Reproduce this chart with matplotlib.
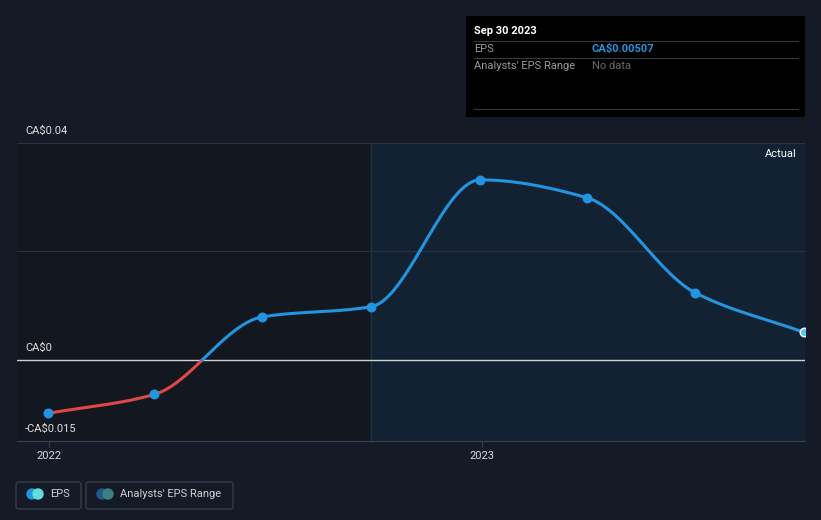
import numpy as np
import matplotlib
matplotlib.use("Agg")
import matplotlib.pyplot as plt
import matplotlib.dates as mdates
from matplotlib.patches import Rectangle, FancyBboxPatch, Ellipse
from matplotlib.lines import Line2D
import datetime as dt

plt.rcParams['font.family'] = ['Roboto', 'DejaVu Sans']

# data
dates = ["2021-12-31", "2022-03-31", "2022-06-30", "2022-09-30",
         "2022-12-31", "2023-03-31", "2023-06-30", "2023-09-30"]
eps = [-0.0099, -0.0064, 0.0079, 0.0098, 0.0332, 0.0299, 0.0124, 0.00507]
ytick_vals = [0.04, 0.0, -0.015]
ytick_labels = ["CA$0.04", "CA$0", "-CA$0.015"]
xtick_dates = ["2022-01-01", "2023-01-01"]
xtick_labels = ["2022", "2023"]

BG = '#151b26'
BLUE = '#2394df'
RED = '#e04848'
W, H = 821, 520

x = mdates.date2num([dt.date.fromisoformat(d) for d in dates])
y = np.array(eps)


def pchip(xk, yk, xs):
    h = np.diff(xk)
    d = np.diff(yk) / h
    m = np.zeros_like(yk)
    for i in range(1, len(xk) - 1):
        if d[i - 1] * d[i] > 0:
            w1 = 2 * h[i] + h[i - 1]
            w2 = h[i] + 2 * h[i - 1]
            m[i] = (w1 + w2) / (w1 / d[i - 1] + w2 / d[i])
    m[0] = d[0]
    m[-1] = d[-1]
    out = np.empty_like(xs)
    for j, xv in enumerate(xs):
        i = min(max(np.searchsorted(xk, xv) - 1, 0), len(xk) - 2)
        t = (xv - xk[i]) / h[i]
        h00 = 2 * t**3 - 3 * t**2 + 1
        h10 = t**3 - 2 * t**2 + t
        h01 = -2 * t**3 + 3 * t**2
        h11 = t**3 - t**2
        out[j] = h00 * yk[i] + h10 * h[i] * m[i] + h01 * yk[i + 1] + h11 * h[i] * m[i + 1]
    return out


fig = plt.figure(figsize=(W / 100, H / 100), dpi=100, facecolor=BG)
ax = fig.add_axes([17 / W, (H - 441) / H, (805 - 17) / W, (441 - 143) / H])
ax.set_facecolor(BG)

xmin = mdates.date2num(dt.date(2021, 12, 5))
xmax = mdates.date2num(dt.date(2023, 10, 1))
ax.set_xlim(xmin, xmax)
ax.set_ylim(-0.015, 0.04)

# background panels
ax.axvspan(xmin, x[3], color='#13171f', zorder=0)
ax.axvspan(x[3], xmax, color='#132436', alpha=0.8, zorder=0)
ax.axvline(x[3], color='#1f3247', lw=1, zorder=1)

# grid
for v in [0.04, 0.02]:
    ax.axhline(v, color='#2c323c', lw=0.8, zorder=1)
ax.axhline(0, color='#d0d0d0', lw=1, zorder=2)

# curve
xs = np.linspace(x[0], x[-1], 800)
ys = pchip(x, y, xs)
neg = np.ma.masked_where(ys > 0.0002, ys)
pos = np.ma.masked_where(ys < -0.0002, ys)
ax.plot(xs, neg, color=RED, lw=2.2, zorder=3, solid_capstyle='round')
ax.plot(xs, pos, color=BLUE, lw=2.2, zorder=3, solid_capstyle='round')
ax.scatter(x[:-1], y[:-1], s=38, color=BLUE, zorder=4)
ax.scatter(x[-1:], y[-1:], s=38, color='#5fc6f0', edgecolor='white', linewidth=1, zorder=5)

# ticks
for s in ax.spines.values():
    s.set_visible(False)
ax.spines['bottom'].set_visible(True)
ax.spines['bottom'].set_color('#3a404a')
ax.set_yticks([])
ax.set_xticks(mdates.date2num([dt.date.fromisoformat(d) for d in xtick_dates]))
ax.set_xticklabels(xtick_labels, color='#d8d8d8', fontsize=8)
ax.tick_params(axis='x', length=4, color='#3a404a', pad=3)

for v, lab in zip(ytick_vals, ytick_labels):
    ax.annotate(lab, xy=(25 / W, v), xycoords=('figure fraction', 'data'),
                xytext=(0, 5), textcoords='offset points',
                color='#e0e0e0', fontsize=8, va='bottom', ha='left')

ax.text(797 / W, 1 - 154 / H, "Actual", transform=fig.transFigure,
        color='#ffffff', fontsize=8, ha='right', va='center')

# tooltip
fig.patches.append(Rectangle((466 / W, 1 - 117 / H), (805 - 466) / W, 101 / H,
                             transform=fig.transFigure, facecolor='#000000',
                             edgecolor='none', zorder=10))
for yy in [41, 58, 109]:
    fig.lines.append(Line2D([474 / W, 798 / W], [1 - yy / H] * 2,
                            transform=fig.transFigure, color='#3a3a3a', lw=0.8, zorder=11))
fig.text(474 / W, 1 - 31 / H, "Sep 30 2023", color='white', fontsize=8,
         fontweight='bold', va='center', zorder=12)
fig.text(474 / W, 1 - 49 / H, "EPS", color='#9a9a9a', fontsize=8, va='center', zorder=12)
fig.text(592 / W, 1 - 49 / H, "CA$0.00507", color=BLUE, fontsize=8,
         fontweight='bold', va='center', zorder=12)
fig.text(474 / W, 1 - 66 / H, "Analysts' EPS Range", color='#9a9a9a', fontsize=8,
         va='center', zorder=12)
fig.text(592 / W, 1 - 66 / H, "No data", color='#6a6a6a', fontsize=8, va='center', zorder=12)

# legend
for (x0, x1) in [(16, 81), (86, 233)]:
    fig.patches.append(FancyBboxPatch((x0 / W, 1 - 509 / H), (x1 - x0) / W, 27 / H,
                                      boxstyle='round,pad=0,rounding_size=0.004',
                                      transform=fig.transFigure, facecolor='none',
                                      edgecolor='#3a404a', lw=0.9))


def dot(cx, color):
    fig.patches.append(Ellipse((cx / W, 1 - 494 / H), 10 / W, 10 / H,
                               transform=fig.transFigure, color=color))


dot(32, BLUE)
dot(38, '#5fe0d8')
fig.text(50 / W, 1 - 494 / H, "EPS", color='#d0d0d0', fontsize=8, va='center')
dot(102, '#1f5a8a')
dot(108, '#3d8080')
fig.text(120 / W, 1 - 494 / H, "Analysts' EPS Range", color='#d0d0d0', fontsize=8,
         va='center')

fig.savefig("out.png", dpi=100, facecolor=BG)
